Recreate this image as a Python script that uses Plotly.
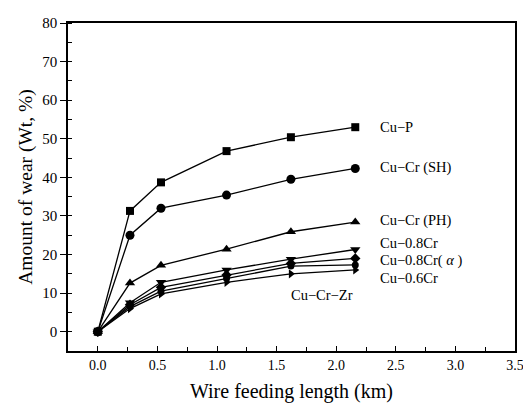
import plotly.graph_objects as go

# Wire feeding length (km)
length_km = [0.0, 0.27, 0.53, 1.08, 1.62, 2.16]

# Amount of wear (Wt, %) per alloy
wear_cu_p = [0.0, 31.3, 38.7, 46.8, 50.4, 53.0]
wear_cu_cr_sh = [0.0, 25.0, 32.0, 35.4, 39.5, 42.3]
wear_cu_cr_ph = [0.0, 12.6, 17.2, 21.4, 25.9, 28.4]
wear_cu_08cr = [0.0, 7.5, 12.8, 16.0, 18.8, 21.3]
wear_cu_08cr_a = [0.0, 7.0, 11.5, 14.7, 17.7, 19.0]
wear_cu_06cr = [0.0, 6.5, 10.5, 13.8, 17.0, 17.3]
wear_cu_cr_zr = [0.0, 6.0, 9.8, 12.8, 15.0, 16.0]

series = [
    ("Cu-P", wear_cu_p, "square", 8),
    ("Cu-Cr (SH)", wear_cu_cr_sh, "circle", 9),
    ("Cu-Cr (PH)", wear_cu_cr_ph, "triangle-up", 9),
    ("Cu-0.8Cr", wear_cu_08cr, "triangle-down", 9),
    ("Cu-0.8Cr(α)", wear_cu_08cr_a, "diamond", 8),
    ("Cu-0.6Cr", wear_cu_06cr, "circle", 7),
    ("Cu-Cr-Zr", wear_cu_cr_zr, "triangle-right", 8),
]

# label text, x, y
labels = [
    ("Cu−P", 2.35, 53.0),
    ("Cu−Cr (SH)", 2.35, 42.6),
    ("Cu−Cr (PH)", 2.35, 28.8),
    ("Cu−0.8Cr", 2.35, 23.1),
    ("Cu−0.8Cr( <i>α</i> )", 2.35, 18.4),
    ("Cu−0.6Cr", 2.35, 14.0),
]

FONT = "Liberation Serif"

fig = go.Figure()

for name, vals, sym, size in series:
    fig.add_trace(go.Scatter(
        x=length_km, y=vals, mode="lines+markers", name=name,
        line=dict(color="black", width=1.3),
        marker=dict(symbol=sym, size=size, color="black"),
        showlegend=False,
    ))

for text, x, y in labels:
    fig.add_annotation(x=x, y=y, text=text, xanchor="left", showarrow=False,
                       font=dict(family=FONT, size=14.5, color="black"))

fig.add_annotation(x=1.88, y=9.4, text="Cu−Cr−Zr", showarrow=False,
                   font=dict(family=FONT, size=14.5, color="black"))

# page body adds an 8px margin, so the figure is drawn 8px smaller
fig.update_layout(
    width=523, height=402,
    margin=dict(l=60, r=13, t=7, b=59),
    plot_bgcolor="white", paper_bgcolor="white",
    font=dict(family=FONT, size=14, color="black"),
    xaxis=dict(
        range=[-0.25, 3.5], tickvals=[0, 0.5, 1, 1.5, 2, 2.5, 3, 3.5],
        tickformat=".1f", ticks="inside", ticklen=5, tickcolor="black",
        tickfont=dict(size=14),
        minor=dict(dtick=0.25, tick0=0, ticks="inside", ticklen=4, tickcolor="black"),
        showline=True, linecolor="black", linewidth=1.5, mirror=True,
        showgrid=False, zeroline=False,
        title=dict(text="Wire feeding length (km)", font=dict(size=20), standoff=12),
    ),
    yaxis=dict(
        range=[-5, 80], dtick=10, tick0=0,
        ticks="outside", ticklen=6, tickcolor="black",
        tickfont=dict(size=15),
        minor=dict(dtick=5, tick0=0, ticks="inside", ticklen=4, tickcolor="black"),
        showline=True, linecolor="black", linewidth=1.5, mirror=True,
        showgrid=False, zeroline=False,
        title=dict(text="Amount of wear (Wt, %)", font=dict(size=19.5), standoff=4),
    ),
)

fig.write_html("out.html")
